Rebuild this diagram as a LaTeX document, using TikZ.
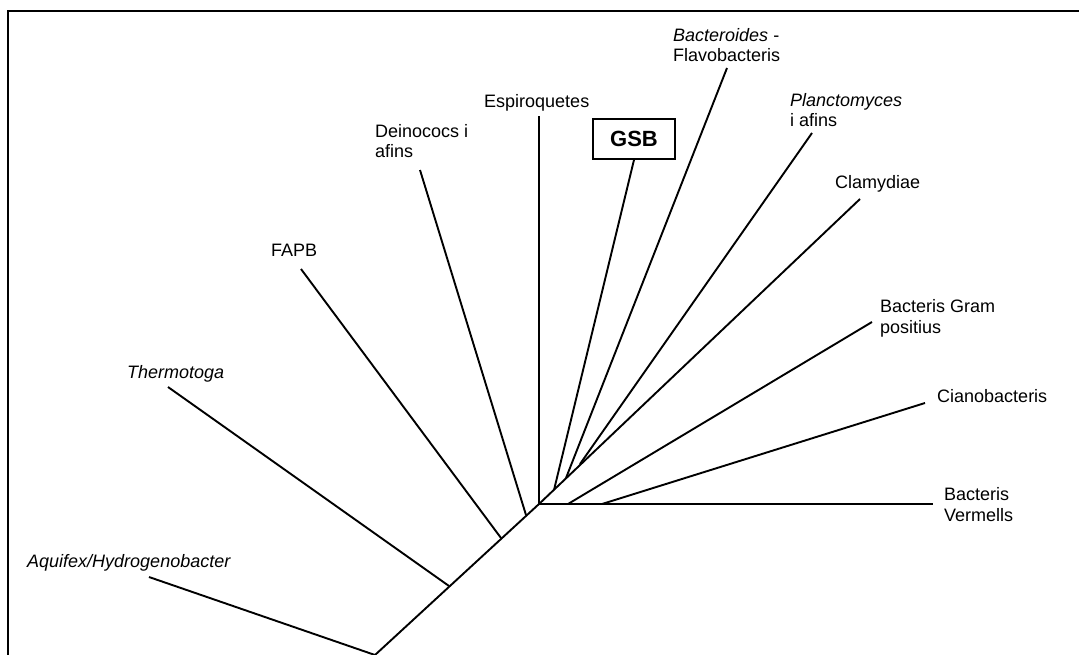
\documentclass[tikz,border=0pt]{standalone}
\usepackage{fontspec}
\setmainfont{Liberation Sans}

\begin{document}
\begin{tikzpicture}[x=1pt,y=-1pt,
	branch/.style={line width=1.9pt},
	frame line/.style={line width=1.8pt},
	leaf node/.style={anchor=base west, inner sep=0pt, align=left,
		font=\fontsize{18}{20.5}\selectfont},
	gsb node/.style={draw, line width=1.8pt, minimum width=82pt, minimum height=40pt,
		inner sep=0pt, font=\fontsize{22}{24}\selectfont\bfseries}]
	\useasboundingbox (0,0) rectangle (1079,655);
	
	% frame
	\coordinate (FrameBL) at (8,655);
	\coordinate (FrameTL) at (8,11);
	\coordinate (FrameTR) at (1079,11);
	\draw[frame line] (FrameBL) -- (FrameTL) -- (FrameTR);
	
	% labels (two-line labels sit on the baseline of their last line)
	\node[leaf node] (Aquifex) at (27,567) {\itshape Aquifex/Hydrogenobacter};
	\node[leaf node] (Thermotoga) at (127,378) {\itshape Thermotoga};
	\node[leaf node] (FAPB) at (271,257) {FAPB};
	\node[leaf node] (Deinococs) at (375,158) {Deinococs i\\afins};
	\node[leaf node] (Espiroquetes) at (484,108) {Espiroquetes};
	\node[gsb node] (GSB) at (634,139) {GSB};
	\node[leaf node] (Bacteroides) at (673,62) {\textit{Bacteroides} -\\Flavobacteris};
	\node[leaf node] (Planctomyces) at (790,127) {\textit{Planctomyces}\\i afins};
	\node[leaf node] (Clamydiae) at (835,189) {Clamydiae};
	\node[leaf node] (GramPos) at (880,333) {Bacteris Gram\\positius};
	\node[leaf node] (Cianobacteris) at (937,402) {Cianobacteris};
	\node[leaf node] (Vermells) at (944,521) {Bacteris\\Vermells};
	
	% tips
	\coordinate (TipAquifex) at (149,577);
	\coordinate (TipThermotoga) at (168,387);
	\coordinate (TipFAPB) at (301,269);
	\coordinate (TipDeinococs) at (420,170);
	\coordinate (TipEspiro) at (539,116);
	\coordinate (TipBacteroides) at (727,68);
	\coordinate (TipPlanctomyces) at (812,133);
	\coordinate (TipClamydiae) at (860,199);
	\coordinate (TipGramPos) at (872,322);
	\coordinate (TipCiano) at (925,403);
	\coordinate (TipVermells) at (933,504);
	
	% junctions
	\coordinate (Root) at (375,655);
	\coordinate (JThermotoga) at (449,586);
	\coordinate (JFAPB) at (501,538);
	\coordinate (JDeinococs) at (526,515);
	\coordinate (JCentre) at (539,504);
	\coordinate (JGSB) at (554,490);
	\coordinate (JBacteroides) at (566,478);
	\coordinate (JPlanctomyces) at (580,464);
	\coordinate (JGramPos) at (568,504);
	\coordinate (JCiano) at (602,504);
	
	% branches
	\draw[branch] (TipAquifex) -- (Root) -- (JCentre) -- (TipClamydiae);
	\draw[branch] (TipThermotoga) -- (JThermotoga);
	\draw[branch] (TipFAPB) -- (JFAPB);
	\draw[branch] (TipDeinococs) -- (JDeinococs);
	\draw[branch] (JCentre) -- (TipEspiro);
	\draw[branch] (JCentre) -- (TipVermells);
	\draw[branch] (GSB.south) -- (JGSB);
	\draw[branch] (TipBacteroides) -- (JBacteroides);
	\draw[branch] (TipPlanctomyces) -- (JPlanctomyces);
	\draw[branch] (JGramPos) -- (TipGramPos);
	\draw[branch] (JCiano) -- (TipCiano);
\end{tikzpicture}
\end{document}
